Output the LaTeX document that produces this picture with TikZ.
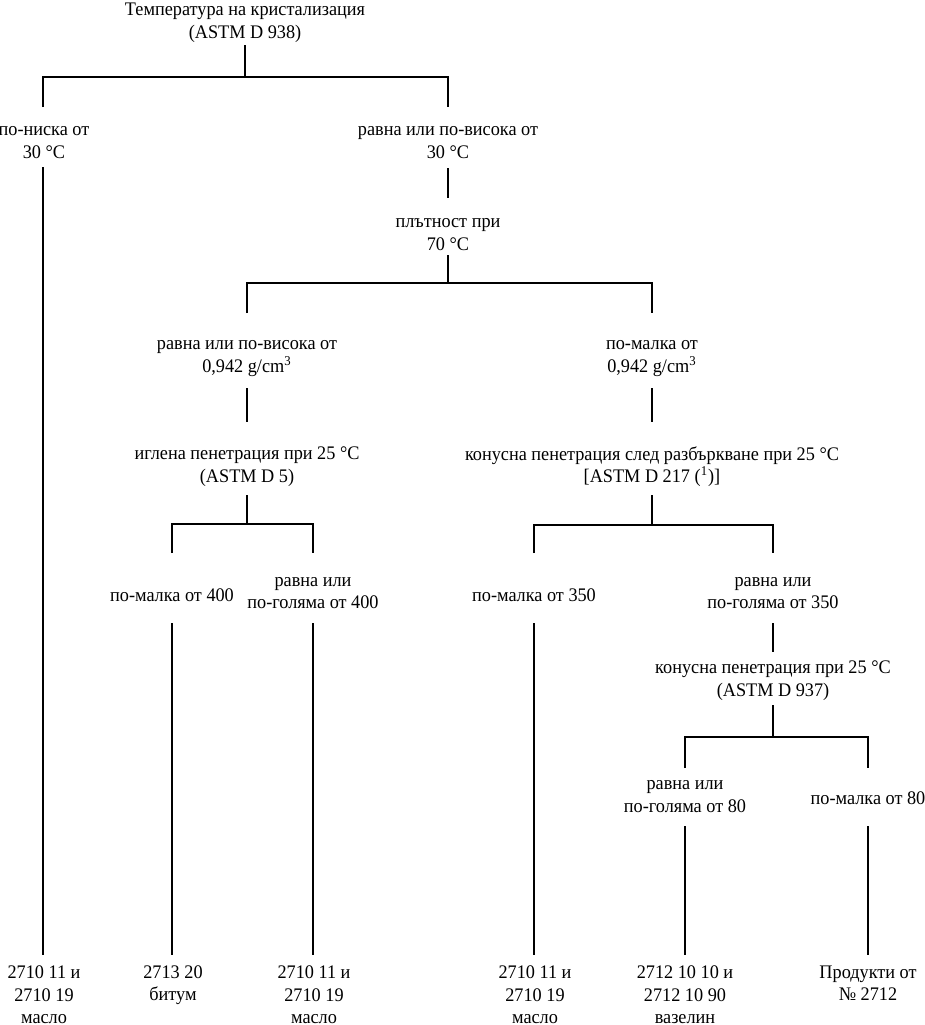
\documentclass[tikz,border=0pt]{standalone}
\usepackage{fontspec}
\setmainfont[FakeStretch=0.95]{Liberation Serif}
\begin{document}
\begin{tikzpicture}[x=0.5pt,y=-0.5pt,
  lbl/.style={align=center,inner sep=0pt,outer sep=0pt,
    font=\fontsize{9.6}{11.25}\selectfont,
    execute at begin node=\strut, execute at end node=\strut},
  ln/.style={line width=1.1pt}]
\useasboundingbox (0,0) rectangle (925,1025);
% text nodes
\node[lbl] (root) at (245,24) {Температура на кристализация\\(ASTM D 938)};
\node[lbl] (n1) at (44,146) {по-ниска от\\30 °C};
\node[lbl] (n2) at (448,146) {равна или по-висока от\\30 °C};
\node[lbl] (n3) at (448,238) {плътност при\\70 °C};
\node[lbl] (n4) at (247,360) {равна или по-висока от\\0,942 g/cm\textsuperscript{3}};
\node[lbl] (n5) at (652,360) {по-малка от\\0,942 g/cm\textsuperscript{3}};
\node[lbl] (n6) at (247,468) {иглена пенетрация при 25 °C\\(ASTM D 5)};
\node[lbl] (n7) at (652,468) {конусна пенетрация след разбъркване при 25 °C\\{[}ASTM D 217 (\textsuperscript{1})]};
\node[lbl] (n8) at (172,596.5) {по-малка от 400};
\node[lbl] (n9) at (313,596.5) {равна или\\по-голяма от 400};
\node[lbl] (n10) at (534,596.5) {по-малка от 350};
\node[lbl] (n11) at (773,596.5) {равна или\\по-голяма от 350};
\node[lbl] (n12) at (773,682) {конусна пенетрация при 25 °C\\(ASTM D 937)};
\node[lbl] (n13) at (685,800) {равна или\\по-голяма от 80};
\node[lbl] (n14) at (868,800) {по-малка от 80};
\node[lbl] (b1) at (44,998) {2710 11 и\\2710 19\\масло};
\node[lbl] (b2) at (173,986.5) {2713 20\\битум};
\node[lbl] (b3) at (314,998) {2710 11 и\\2710 19\\масло};
\node[lbl] (b4) at (535,998) {2710 11 и\\2710 19\\масло};
\node[lbl] (b5) at (685,998) {2712 10 10 и\\2712 10 90\\вазелин};
\node[lbl] (b6) at (868,986.5) {Продукти от\\№ 2712};
% line end points
\coordinate (r0) at (245,45);   \coordinate (r1) at (245,77);
\coordinate (a1) at (43,107);   \coordinate (a2) at (448,107);
\coordinate (l1t) at (43,167);  \coordinate (l1b) at (43,955);
\coordinate (s2t) at (448,168); \coordinate (s2b) at (448,198);
\coordinate (s3t) at (448,255); \coordinate (s3b) at (448,283);
\coordinate (c1) at (247,313);  \coordinate (c2) at (652,313);
\coordinate (s4t) at (247,388); \coordinate (s4b) at (247,422);
\coordinate (s5t) at (652,388); \coordinate (s5b) at (652,422);
\coordinate (s6t) at (247,495); \coordinate (s6b) at (247,524);
\coordinate (d1) at (172,553);  \coordinate (d2) at (313,553);
\coordinate (s7t) at (652,495); \coordinate (s7b) at (652,525);
\coordinate (e1) at (534,553);  \coordinate (e2) at (773,553);
\coordinate (l8t) at (172,623); \coordinate (l8b) at (172,955);
\coordinate (l9t) at (313,623); \coordinate (l9b) at (313,955);
\coordinate (l10t) at (534,623); \coordinate (l10b) at (534,955);
\coordinate (s11t) at (773,623); \coordinate (s11b) at (773,652);
\coordinate (s12t) at (773,705); \coordinate (s12b) at (773,737);
\coordinate (f1) at (685,768);  \coordinate (f2) at (868,768);
\coordinate (l13t) at (685,826); \coordinate (l13b) at (685,955);
\coordinate (l14t) at (868,826); \coordinate (l14b) at (868,955);
% connectors
\draw[ln] (r0) -- (r1);
\draw[ln] (a1) |- (r1) -| (a2);
\draw[ln] (l1t) -- (l1b);
\draw[ln] (s2t) -- (s2b);
\draw[ln] (s3t) -- (s3b);
\draw[ln] (c1) |- (s3b) -| (c2);
\draw[ln] (s4t) -- (s4b);
\draw[ln] (s5t) -- (s5b);
\draw[ln] (s6t) -- (s6b);
\draw[ln] (d1) |- (s6b) -| (d2);
\draw[ln] (s7t) -- (s7b);
\draw[ln] (e1) |- (s7b) -| (e2);
\draw[ln] (l8t) -- (l8b);
\draw[ln] (l9t) -- (l9b);
\draw[ln] (l10t) -- (l10b);
\draw[ln] (s11t) -- (s11b);
\draw[ln] (s12t) -- (s12b);
\draw[ln] (f1) |- (s12b) -| (f2);
\draw[ln] (l13t) -- (l13b);
\draw[ln] (l14t) -- (l14b);
\end{tikzpicture}
\end{document}
